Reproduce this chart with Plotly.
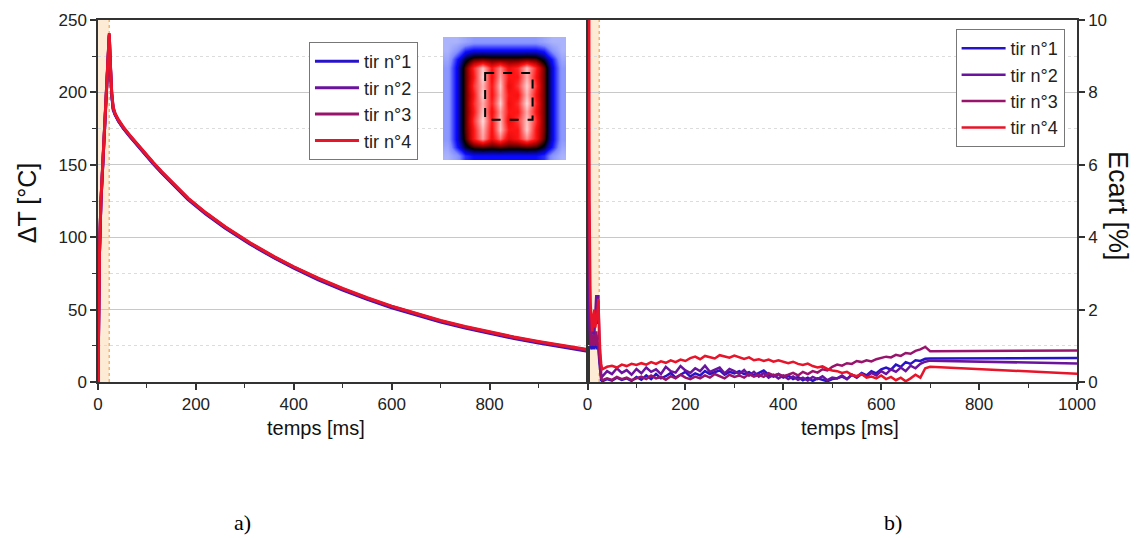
import plotly.graph_objects as go

# ---------------- data: panel a) temperature rise ----------------
t_dT = [0, 1, 3, 6, 10, 15, 20, 23, 25, 28, 31, 35, 42, 52, 65, 80, 100, 113, 130, 150,
        184, 220, 260, 310, 360, 400, 450, 500, 550, 600, 650, 700, 750, 800, 850, 900, 950, 1000]
dT_tir4 = [0, 40, 90, 126, 155, 190, 222, 241, 222, 200, 190, 185.5, 181, 176, 170.5, 164.5, 156.5, 151.6, 145.4, 138.4,
           127, 117, 107.2, 96.3, 86.6, 79.6, 71.7, 64.6, 58.2, 52.4, 47.2, 42.5, 38.3, 34.5, 31.1, 28.0, 25.1, 22.4]
dT_tir3 = [0, 39, 89, 125, 154, 189, 221, 240, 221, 199, 189, 185, 180.5, 175.5, 170, 164, 156, 151.2, 145, 138,
           126.7, 116.7, 106.9, 96, 86.3, 79.3, 71.4, 64.3, 57.9, 52.1, 46.9, 42.2, 38.0, 34.2, 30.8, 27.7, 24.8, 22.1]
dT_tir2 = [0, 39, 89, 125, 154, 189, 221, 240, 221, 199, 189, 184.8, 180.3, 175.3, 169.8, 163.8, 155.8, 151, 144.8, 137.8,
           126.5, 116.5, 106.7, 95.8, 86.1, 79.1, 71.1, 64.0, 57.6, 51.8, 46.6, 41.9, 37.7, 33.9, 30.5, 27.4, 24.5, 21.8]
dT_tir1 = [0, 38, 88, 124, 153, 188, 220, 239, 220, 198, 188, 184.5, 180, 175, 169.5, 163.5, 155.5, 150.6, 144.4, 137.4,
           126, 116, 106.2, 95.3, 85.6, 78.6, 70.6, 63.5, 57.1, 51.3, 46.1, 41.4, 37.2, 33.4, 30.0, 26.9, 24.0, 21.3]

# ---------------- data: panel b) deviation between shots ----------------
t_init = [0, 2, 4, 6, 8, 10, 12, 14, 16, 18, 20, 22, 24, 26, 28]
t_noise = [30, 40, 50, 60, 70, 80, 90, 100, 110, 120, 130, 140, 150, 160, 170, 180, 190, 200,
           210, 220, 230, 240, 250, 260, 270, 280, 290, 300, 310, 320, 330, 340, 350, 360, 370, 380, 390, 400,
           410, 420, 430, 440, 450, 460, 470, 480, 490, 500, 510, 520, 530, 540, 550, 560, 570, 580, 590, 600,
           610, 620, 630, 640, 650, 660, 670, 680, 690]
t_tail = [700, 1000]
t_ecart = t_init + t_noise + t_tail

ec_tir4 = ([40, 12, 5, 2.2, 1.6, 1.4, 1.8, 2.0, 1.5, 1.7, 1.9, 2.3, 1.4, 0.8, 0.5] +
           [0.35, 0.42, 0.45, 0.40, 0.48, 0.44, 0.50, 0.47,
            0.52, 0.48, 0.55, 0.50, 0.57, 0.53, 0.60, 0.55, 0.62, 0.58,
            0.66, 0.70, 0.63, 0.72, 0.68, 0.65, 0.74, 0.70, 0.67, 0.73,
            0.69, 0.64, 0.68, 0.60, 0.63, 0.58, 0.62, 0.56, 0.60, 0.55,
            0.52, 0.56, 0.50, 0.47, 0.51, 0.44, 0.40, 0.43, 0.36, 0.32,
            0.30, 0.25, 0.28, 0.20, 0.16, 0.22, 0.12, 0.15, 0.10, 0.18,
            0.08, 0.14, 0.05, 0.12, 0.02, 0.10, 0.20, 0.12, 0.38] +
           [0.42, 0.23])
ec_tir2 = ([40, 4.2, 1.6, 1.0, 1.2, 1.8, 1.5, 1.3, 1.9, 2.4, 1.6, 2.4, 1.2, 0.5, 0.2] +
           [0.15, 0.30, 0.22, 0.38, 0.25, 0.33, 0.20, 0.36,
            0.24, 0.40, 0.28, 0.35, 0.22, 0.42, 0.30, 0.26, 0.44, 0.32,
            0.25, 0.38, 0.30, 0.45, 0.28, 0.35, 0.40, 0.24, 0.36, 0.30,
            0.22, 0.33, 0.18, 0.28, 0.15, 0.25, 0.12, 0.20, 0.10, 0.18,
            0.08, 0.15, 0.06, 0.12, 0.04, 0.14, 0.08, 0.16, 0.05, 0.12,
            0.10, 0.18, 0.08, 0.20, 0.12, 0.22, 0.15, 0.25, 0.18, 0.30,
            0.22, 0.35, 0.28, 0.40, 0.30, 0.45, 0.38, 0.50, 0.56] +
           [0.59, 0.51])
ec_tir3 = ([40, 8, 3.0, 1.5, 1.0, 1.1, 1.3, 1.0, 1.2, 1.4, 1.0, 1.1, 0.7, 0.3, 0.1] +
           [0.05, 0.10, 0.06, 0.14, 0.08, 0.12, 0.05, 0.10,
            0.15, 0.08, 0.18, 0.10, 0.14, 0.06, 0.16, 0.10, 0.20, 0.12,
            0.08, 0.15, 0.10, 0.18, 0.12, 0.22, 0.15, 0.10, 0.20, 0.14,
            0.18, 0.12, 0.22, 0.15, 0.20, 0.14, 0.24, 0.18, 0.22, 0.16,
            0.20, 0.25, 0.18, 0.28, 0.22, 0.30, 0.26, 0.35, 0.32, 0.42,
            0.48, 0.45, 0.52, 0.50, 0.58, 0.55, 0.60, 0.57, 0.63, 0.66,
            0.70, 0.68, 0.75, 0.72, 0.80, 0.78, 0.86, 0.90, 0.97] +
           [0.85, 0.87])
ec_tir1 = ([40, 6, 2.5, 1.2, 0.9, 1.0, 1.2, 0.9, 1.1, 1.3, 0.9, 1.0, 0.6, 0.2, 0.05] +
           [0.02, 0.08, 0.04, 0.12, 0.06, 0.10, 0.03, 0.14,
            0.06, 0.18, 0.08, 0.22, 0.10, 0.16, 0.25, 0.12, 0.20, 0.28,
            0.15, 0.24, 0.18, 0.30, 0.22, 0.26, 0.32, 0.20, 0.28, 0.24,
            0.30, 0.22, 0.27, 0.18, 0.25, 0.32, 0.20, 0.15, 0.22, 0.12,
            0.18, 0.08, 0.14, 0.05, 0.12, 0.03, 0.10, 0.06, 0.02, 0.08,
            0.10, 0.15, 0.08, 0.20, 0.14, 0.25, 0.18, 0.30, 0.24, 0.35,
            0.40, 0.34, 0.48, 0.42, 0.55, 0.50, 0.60, 0.58, 0.64] +
           [0.65, 0.66])

series_names = ["tir n°1", "tir n°2", "tir n°3", "tir n°4"]
series_colors = ["#2814c8", "#6a149e", "#98146c", "#e8142a"]

# inset thermal image (normalised intensity, read approximately)
inset_z = [
    [0.00, 0.00, 0.05, 0.10, 0.10, 0.10, 0.10, 0.10, 0.10, 0.10, 0.10, 0.05, 0.00, 0.00],
    [0.00, 0.12, 0.30, 0.35, 0.35, 0.35, 0.35, 0.35, 0.35, 0.35, 0.35, 0.30, 0.12, 0.00],
    [0.05, 0.30, 0.50, 0.62, 0.64, 0.62, 0.62, 0.62, 0.62, 0.64, 0.62, 0.50, 0.30, 0.05],
    [0.10, 0.35, 0.62, 0.82, 0.95, 0.80, 0.90, 0.78, 0.82, 0.95, 0.82, 0.64, 0.35, 0.10],
    [0.10, 0.35, 0.62, 0.80, 0.97, 0.78, 0.92, 0.80, 0.80, 0.93, 0.80, 0.64, 0.35, 0.10],
    [0.10, 0.35, 0.62, 0.83, 0.94, 0.80, 0.95, 0.77, 0.83, 0.96, 0.83, 0.64, 0.35, 0.10],
    [0.10, 0.35, 0.62, 0.80, 0.96, 0.79, 0.93, 0.80, 0.79, 0.94, 0.80, 0.64, 0.35, 0.10],
    [0.10, 0.35, 0.62, 0.82, 0.93, 0.81, 0.96, 0.78, 0.82, 0.97, 0.82, 0.64, 0.35, 0.10],
    [0.10, 0.35, 0.62, 0.80, 0.95, 0.78, 0.92, 0.80, 0.80, 0.93, 0.80, 0.64, 0.35, 0.10],
    [0.10, 0.35, 0.62, 0.83, 0.97, 0.80, 0.94, 0.77, 0.83, 0.95, 0.83, 0.64, 0.35, 0.10],
    [0.10, 0.35, 0.62, 0.80, 0.94, 0.79, 0.95, 0.80, 0.80, 0.96, 0.80, 0.64, 0.35, 0.10],
    [0.10, 0.35, 0.60, 0.80, 0.92, 0.78, 0.88, 0.76, 0.80, 0.90, 0.80, 0.62, 0.35, 0.10],
    [0.05, 0.30, 0.50, 0.60, 0.62, 0.60, 0.62, 0.60, 0.60, 0.62, 0.60, 0.50, 0.30, 0.05],
    [0.00, 0.10, 0.28, 0.33, 0.33, 0.33, 0.33, 0.33, 0.33, 0.33, 0.33, 0.28, 0.10, 0.00],
]

FONT = "Liberation Sans, Arial, sans-serif"

fig = go.Figure()

for name, col, y in zip(series_names, series_colors, [dT_tir1, dT_tir2, dT_tir3, dT_tir4]):
    fig.add_trace(go.Scatter(x=t_dT, y=y, mode="lines", name=name,
                             line=dict(color=col, width=3),
                             xaxis="x", yaxis="y", legend="legend"))

for name, col, y in zip(series_names, series_colors, [ec_tir1, ec_tir2, ec_tir3, ec_tir4]):
    fig.add_trace(go.Scatter(x=t_ecart, y=y, mode="lines", name=name,
                             line=dict(color=col, width=2.5),
                             xaxis="x2", yaxis="y2", legend="legend2"))

fig.add_trace(go.Heatmap(
    z=inset_z, xaxis="x3", yaxis="y3", zmin=0, zmax=1, zsmooth="best",
    showscale=False, hoverinfo="skip", showlegend=False,
    colorscale=[[0.0, "#aab3fb"], [0.15, "#7f8bff"], [0.33, "#0a0aff"],
                [0.55, "#000000"], [0.70, "#b00000"], [0.80, "#ff1414"], [1.0, "#ffffff"]]))

tickfont = dict(family=FONT, size=17, color="#222")
common = dict(showline=True, linecolor="#333", linewidth=1.5, ticks="outside", ticklen=6,
              tickwidth=1.5, tickcolor="#333", tickfont=tickfont, zeroline=False,
              automargin=False, mirror=True)
xminor = dict(tickvals=[100, 300, 500, 700, 900], ticks="outside", ticklen=4,
              tickwidth=1.2, tickcolor="#333", showgrid=False)

# the page body adds an 8 px offset; the figure is shrunk by that amount
fig.update_layout(
    width=1135, height=530,
    margin=dict(l=90, r=66, t=12, b=156, pad=0),
    paper_bgcolor="white", plot_bgcolor="white",
    template="none",
    showlegend=True,
    xaxis=dict(domain=[0, 0.5], range=[0, 1000], tickvals=[0, 200, 400, 600, 800],
               showgrid=False, anchor="y", minor=xminor, **common),
    yaxis=dict(domain=[0, 1], range=[0, 250], tickvals=[0, 50, 100, 150, 200, 250],
               showgrid=True, gridcolor="#c8c8c8", gridwidth=1, anchor="x",
               minor=dict(tickvals=[25, 75, 125, 175, 225], ticks="outside", ticklen=4,
                          tickwidth=1.2, tickcolor="#333", showgrid=True,
                          gridcolor="#dcdcdc", griddash="dot"),
               **common),
    xaxis2=dict(domain=[0.5, 1], range=[0, 1000], tickvals=[0, 200, 400, 600, 800, 1000],
                showgrid=False, anchor="y2", minor=xminor, **common),
    yaxis2=dict(domain=[0, 1], range=[0, 10], tickvals=[0, 2, 4, 6, 8, 10], side="right",
                showgrid=True, gridcolor="#c8c8c8", gridwidth=1, anchor="x2",
                minor=dict(tickvals=[1, 3, 5, 7, 9], ticks="", showgrid=True,
                           gridcolor="#dcdcdc", griddash="dot"),
                **common),
    xaxis3=dict(domain=[0.3524, 0.478], range=[-0.5, 13.5], visible=False, anchor="y3"),
    yaxis3=dict(domain=[0.613, 0.953], range=[13.5, -0.5], visible=False, anchor="x3"),
    legend=dict(x=0.2155, y=0.939, xanchor="left", yanchor="top", bgcolor="white",
                bordercolor="#777", borderwidth=1, tracegroupgap=0, itemwidth=44,
                font=dict(family=FONT, size=18, color="#222")),
    legend2=dict(x=0.876, y=0.975, xanchor="left", yanchor="top", bgcolor="white",
                 bordercolor="#777", borderwidth=1, tracegroupgap=0, itemwidth=44,
                 font=dict(family=FONT, size=18, color="#222")),
)

band_fill = "#fdebd5"
band_line = "#f7b26a"
fig.add_shape(type="rect", xref="x", yref="paper", x0=0, x1=23, y0=0, y1=1,
              fillcolor=band_fill, line=dict(width=0), layer="below")
fig.add_shape(type="line", xref="x", yref="paper", x0=23, x1=23, y0=0, y1=1,
              line=dict(color=band_line, width=1.5, dash="dot"), layer="below")
fig.add_shape(type="rect", xref="x2", yref="paper", x0=0, x1=24, y0=0, y1=1,
              fillcolor=band_fill, line=dict(width=0), layer="below")
fig.add_shape(type="line", xref="x2", yref="paper", x0=24, x1=24, y0=0, y1=1,
              line=dict(color=band_line, width=1.5, dash="dot"), layer="below")
# dashed measurement window on the inset
fig.add_shape(type="rect", xref="x3", yref="y3", x0=4.3, x1=9.7, y0=3.6, y1=8.9,
              line=dict(color="black", width=2, dash="dash"), layer="above")

ann_font = dict(family=FONT, color="#111")
def ann(text, x, y, size, angle=0, family=None, color="#111"):
    fig.add_annotation(text=text, xref="paper", yref="paper", x=x, y=y,
                       xanchor="center", yanchor="middle", textangle=angle,
                       showarrow=False,
                       font=dict(family=family or FONT, size=size, color=color))

ann("ΔT [°C]", -0.0725, 0.494, 25, angle=-90)
ann("Ecart [%]", 1.042, 0.486, 27, angle=90)
ann("temps [ms]", 0.2227, -0.127, 20)
ann("temps [ms]", 0.768, -0.127, 20)
ann("a)", 0.148, -0.387, 22, family="Liberation Serif, Times New Roman, serif", color="#000")
ann("b)", 0.812, -0.387, 22, family="Liberation Serif, Times New Roman, serif", color="#000")

fig.write_html("out.html")
